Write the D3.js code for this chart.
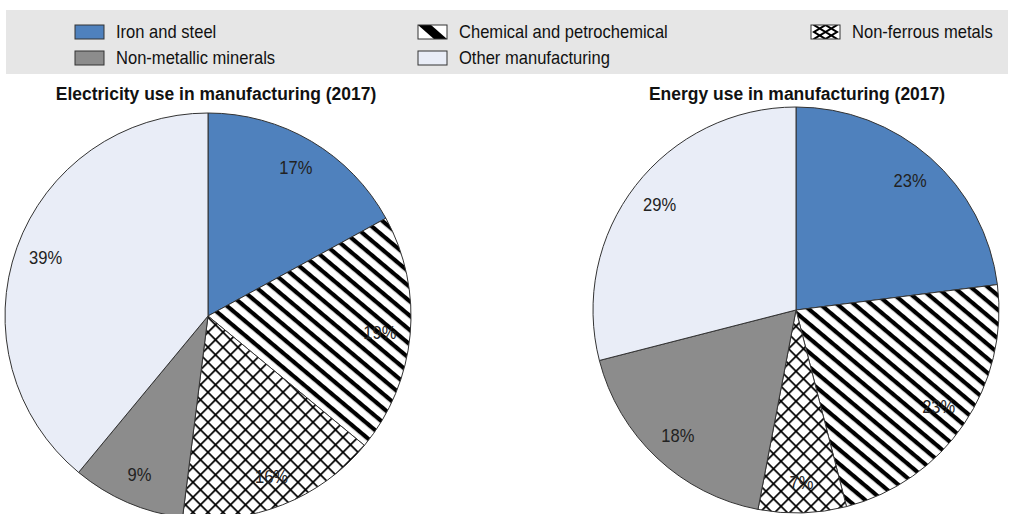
<!DOCTYPE html>
<html>
<head>
<meta charset="utf-8">
<script src="https://cdn.jsdelivr.net/npm/d3@7"></script>
<style>
  html, body { margin: 0; padding: 0; background: #fff; }
  svg { display: block; }
  text { font-family: "Liberation Sans", Arial, sans-serif; }
</style>
</head>
<body>
<svg id="chart" width="1011" height="514"></svg>
<script>
// ---- Data ----
const categories = ["Iron and steel", "Chemical and petrochemical", "Non-ferrous metals", "Non-metallic minerals", "Other manufacturing"];
const electricityShares = [17, 19, 16, 9, 39];
const energyShares = [23, 23, 7, 18, 29];
const chartTitles = ["Electricity use in manufacturing (2017)", "Energy use in manufacturing (2017)"];
const legendRows = [[0, 1, 2], [3, 4]];

// ---- Setup ----
const svg = d3.select("#chart");
const defs = svg.append("defs");
const SX = 0.92; // narrow-font emulation

// stripes pattern
const stripe = defs.append("pattern")
  .attr("id", "stripes").attr("patternUnits", "userSpaceOnUse")
  .attr("width", 20).attr("height", 11)
  .attr("patternTransform", "rotate(40)");
stripe.append("rect").attr("width", 20).attr("height", 11).attr("fill", "#fff");
stripe.append("rect").attr("y", 0).attr("width", 20).attr("height", 4.2).attr("fill", "#000");

// crosshatch pattern
const cw = 15 / Math.SQRT2;
const cross = defs.append("pattern")
  .attr("id", "cross").attr("patternUnits", "userSpaceOnUse")
  .attr("width", cw).attr("height", cw)
  .attr("patternTransform", "rotate(45)");
cross.append("rect").attr("width", cw).attr("height", cw).attr("fill", "#fff");
cross.append("rect").attr("width", cw).attr("height", 1.7).attr("fill", "#000");
cross.append("rect").attr("width", 1.7).attr("height", cw).attr("fill", "#000");

// legend swatch patterns
const ls = defs.append("pattern").attr("id", "legStripe")
  .attr("patternUnits", "objectBoundingBox").attr("patternContentUnits", "objectBoundingBox")
  .attr("width", 1).attr("height", 1);
ls.append("rect").attr("width", 1).attr("height", 1).attr("fill", "#fff");
ls.append("polygon").attr("points", "0,0 0.45,0 1,1 0.55,1").attr("fill", "#000");

const lc = defs.append("pattern").attr("id", "legCross")
  .attr("patternUnits", "objectBoundingBox").attr("patternContentUnits", "objectBoundingBox")
  .attr("width", 1).attr("height", 1);
lc.append("rect").attr("width", 1).attr("height", 1).attr("fill", "#fff");
lc.append("path").attr("d", "M0.1,0L0.9,1M0.9,0L0.1,1M0.5,0L0.9,0.5L0.5,1L0.1,0.5Z")
  .attr("fill", "none").attr("stroke", "#000").attr("stroke-width", 0.1);

const fills = d3.scaleOrdinal()
  .domain(categories)
  .range(["#4f81bd", "url(#stripes)", "url(#cross)", "#8c8c8c", "#e9edf7"]);
const legendFills = d3.scaleOrdinal()
  .domain(categories)
  .range(["#4f81bd", "url(#legStripe)", "url(#legCross)", "#8c8c8c", "#e9edf7"]);

// ---- Legend ----
svg.append("rect").attr("x", 6).attr("y", 10).attr("width", 1002).attr("height", 64).attr("fill", "#e6e6e6");
const colX = d3.scaleOrdinal().domain([0, 1, 2]).range([75, 418, 811]);
const rowY = d3.scalePoint().domain([0, 1]).range([32, 58]);
legendRows.forEach((row, ri) => {
  row.forEach((ci, k) => {
    const name = categories[ci];
    const g = svg.append("g").attr("transform", `translate(${colX(k)},${rowY(ri)})`);
    g.append("rect").attr("x", 0).attr("y", -7).attr("width", 29).attr("height", 14)
      .attr("fill", legendFills(name)).attr("stroke", "#333").attr("stroke-width", 1);
    g.append("text").attr("transform", `translate(41,0) scale(${SX},1)`).attr("dy", "0.36em")
      .attr("font-size", 18).attr("fill", "#111").text(name);
  });
});

// ---- Pies ----
const R = 203;
const centers = [[208, 316], [796, 310]];
const titleX = [216, 797];
const pie = d3.pie().sort(null).value(d => d.v);
const arc = d3.arc().innerRadius(0).outerRadius(R);
const labelArc = d3.arc().innerRadius(R * 0.85).outerRadius(R * 0.85);

[electricityShares, energyShares].forEach((vals, pi) => {
  const data = categories.map((c, i) => ({ c, v: vals[i] }));
  const [cx, cy] = centers[pi];
  svg.append("text").attr("transform", `translate(${titleX[pi]},93) scale(${SX},1)`).attr("dy", "0.36em")
    .attr("text-anchor", "middle").attr("font-size", 19).attr("font-weight", "bold")
    .attr("fill", "#111").text(chartTitles[pi]);
  const g = svg.append("g").attr("transform", `translate(${cx},${cy})`);
  const arcs = pie(data);
  g.selectAll("path").data(arcs).join("path")
    .attr("d", arc).attr("fill", d => fills(d.data.c))
    .attr("stroke", "#333").attr("stroke-width", 1);
  g.selectAll("text.lbl").data(arcs).join("text").attr("class", "lbl")
    .attr("transform", d => `translate(${labelArc.centroid(d)}) scale(${SX},1)`)
    .attr("text-anchor", "middle").attr("dy", "0.36em")
    .attr("font-size", 18).attr("fill", "#222")
    .text(d => d.data.v + "%");
});
</script>
</body>
</html>
